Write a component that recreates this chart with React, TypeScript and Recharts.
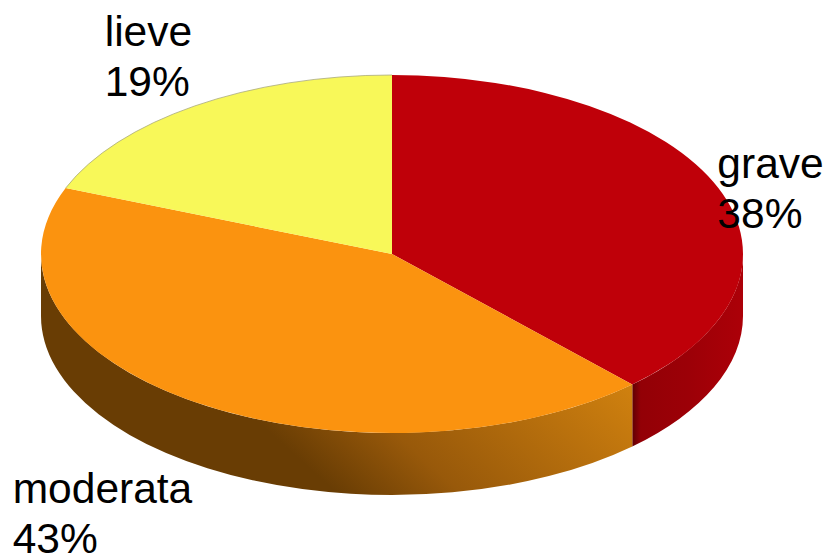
import { Pie, PieChart } from "recharts";

const categories = ["grave", "moderata", "lieve"];
const shares = [38, 43, 19];
const topColors = ["#bf0009", "#fb930f", "#f8f859"];
const wallFills = ["url(#wallRed)", "url(#wallOrange)", "#000000"];
const rimColors = ["none", "none", "#a9a97c"];
// where each two-line label sits relative to the rim point at the slice's mid angle
const labelOffsets = [
  { dx: -1, dy: -10 },
  { dx: -182, dy: 101 },
  { dx: -90, dy: -60 },
];

const data = categories.map((name, i) => ({ name, value: shares[i] }));

const WIDTH = 829;
const HEIGHT = 556;
const CX = 392;
const CY = 254;
const RX = 351;
const RY = 179; // vertical squash of the disc
const DEPTH = 62;

const RAD = Math.PI / 180;
const px = (cx: number, a: number) => cx + RX * Math.cos(a * RAD);
const py = (cy: number, a: number) => cy - RY * Math.sin(a * RAD);

function arcTo(cx: number, cy: number, from: number, to: number) {
  const large = Math.abs(from - to) > 180 ? 1 : 0;
  return `A ${RX} ${RY} 0 ${large} 1 ${px(cx, to)} ${py(cy, to)}`;
}

function TopSlice(props: any) {
  const { cx, cy, startAngle, endAngle, index } = props;
  const rim = `M ${px(cx, startAngle)} ${py(cy, startAngle)} ${arcTo(cx, cy, startAngle, endAngle)}`;
  return (
    <g>
      <path d={`${rim} L ${cx} ${cy} Z`} fill={topColors[index]} />
      <path d={rim} fill="none" stroke={rimColors[index]} strokeWidth={0.8} />
    </g>
  );
}

// Side wall: only the part of a slice facing the viewer (angles 0 to -180)
function WallSlice(props: any) {
  const { cx, cy, startAngle, endAngle, index } = props;
  const from = Math.min(startAngle, 0);
  const to = Math.max(endAngle, -180);
  if (from <= to) return <g />;
  const d = [
    `M ${px(cx, from)} ${py(cy, from)}`,
    arcTo(cx, cy, from, to),
    `L ${px(cx, to)} ${py(cy, to) + DEPTH}`,
    `A ${RX} ${RY} 0 0 0 ${px(cx, from)} ${py(cy, from) + DEPTH}`,
    "Z",
  ].join(" ");
  return <path d={d} fill={wallFills[index]} />;
}

function SliceLabel(props: any) {
  const { cx, cy, midAngle, index, name, value } = props;
  const x = px(cx, midAngle) + labelOffsets[index].dx;
  const y = py(cy, midAngle) + labelOffsets[index].dy;
  return (
    <text x={x} y={y} fontFamily="Liberation Sans" fontSize={42.5} fill="#000000">
      <tspan x={x} dy={0}>
        {name}
      </tspan>
      <tspan x={x} dy={50}>
        {value}%
      </tspan>
    </text>
  );
}

export default function App() {
  return (
    <div style={{ position: "absolute", left: 0, top: 0, width: WIDTH, height: HEIGHT }}>
      <PieChart width={WIDTH} height={HEIGHT} margin={{ top: 0, right: 0, bottom: 0, left: 0 }}>
        <defs>
          <linearGradient id="wallOrange" gradientUnits="userSpaceOnUse" x1={267} y1={430} x2={453} y2={224}>
            <stop offset="0" stopColor="#693d04" />
            <stop offset="0.3" stopColor="#98590a" />
            <stop offset="1" stopColor="#d0810f" />
          </linearGradient>
          <linearGradient id="wallRed" gradientUnits="userSpaceOnUse" x1={633} y1={0} x2={743} y2={0}>
            <stop offset="0" stopColor="#640004" />
            <stop offset="0.07" stopColor="#930006" />
            <stop offset="0.5" stopColor="#9c0007" />
            <stop offset="1" stopColor="#ac0008" />
          </linearGradient>
        </defs>
        <Pie
          data={data}
          dataKey="value"
          nameKey="name"
          cx={CX}
          cy={CY}
          outerRadius={RX}
          startAngle={90}
          endAngle={-270}
          stroke="none"
          shape={WallSlice}
          isAnimationActive={false}
        />
        <Pie
          data={data}
          dataKey="value"
          nameKey="name"
          cx={CX}
          cy={CY}
          outerRadius={RX}
          startAngle={90}
          endAngle={-270}
          stroke="none"
          shape={TopSlice}
          label={SliceLabel}
          labelLine={false}
          isAnimationActive={false}
        />
      </PieChart>
    </div>
  );
}
